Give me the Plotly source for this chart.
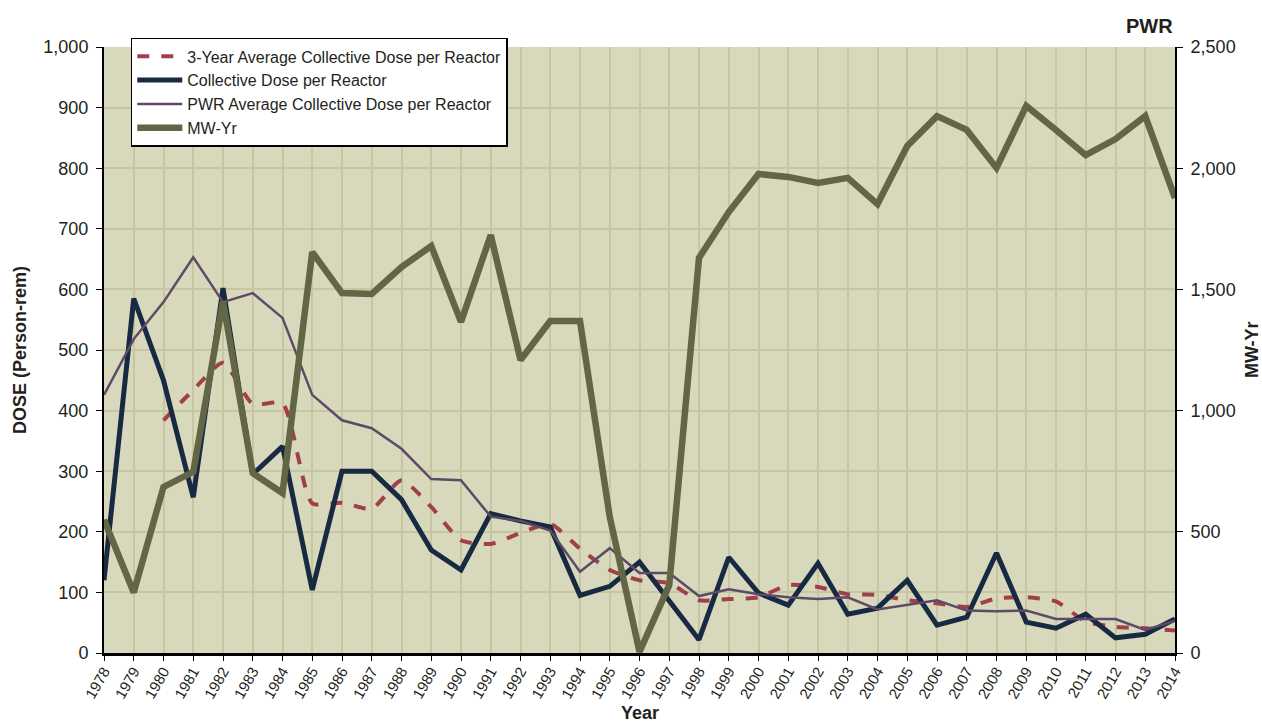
import plotly.graph_objects as go

years = list(range(1978, 2015))

# Collective dose per reactor (person-rem)
collective_dose = [120, 585, 450, 257, 602, 295, 341, 104, 300, 300, 253, 170, 137,
                   230, 218, 208, 95, 110, 150, 86, 22, 158, 99, 79, 148, 64, 74,
                   120, 46, 59, 165, 51, 41, 64, 25, 31, 56]

# PWR average collective dose per reactor (person-rem)
pwr_average = [426, 518, 579, 653, 579, 594, 553, 426, 384, 371, 337, 287, 285,
               225, 218, 202, 134, 173, 132, 132, 94, 105, 97, 92, 89, 92, 72,
               80, 87, 70, 69, 70, 56, 56, 56, 38, 53]

# 3-year rolling average of collective dose (starts in 1980)
three_year_years = list(range(1980, 2015))
three_year_avg = [384, 434, 479, 411, 412, 247, 248, 238, 285, 241, 186, 180, 198,
                  213, 172, 137, 120, 115, 87, 89, 92, 112, 109, 97, 96, 87, 82,
                  76, 90, 92, 85, 52, 43, 41, 37]

# Net electrical output (MW-Yr)
mw_yr = [550, 250, 685, 747, 1450, 742, 660, 1654, 1485, 1481, 1592, 1679, 1366,
         1724, 1209, 1370, 1370, 561, 5, 280, 1630, 1819, 1976, 1964, 1939, 1960,
         1852, 2092, 2215, 2158, 2001, 2257, 2158, 2054, 2120, 2215, 1877]

font_family = "Liberation Sans, Arial, sans-serif"
text_color = "#231f20"
grid_color = "#c6c6a0"

fig = go.Figure()

fig.add_trace(go.Scatter(
    x=three_year_years, y=three_year_avg, mode="lines",
    name="3-Year Average Collective Dose per Reactor",
    line=dict(color="#a13f4a", width=4, dash="dash", shape="spline", smoothing=0.6),
    legendrank=1,
))
fig.add_trace(go.Scatter(
    x=years, y=collective_dose, mode="lines",
    name="Collective Dose per Reactor",
    line=dict(color="#172a42", width=5),
    legendrank=2,
))
fig.add_trace(go.Scatter(
    x=years, y=pwr_average, mode="lines",
    name="PWR Average Collective Dose per Reactor",
    line=dict(color="#5e4a66", width=2.5),
    legendrank=3,
))
fig.add_trace(go.Scatter(
    x=years, y=mw_yr, mode="lines",
    name="MW-Yr", yaxis="y2",
    line=dict(color="#636644", width=6.5),
    legendrank=4,
))

fig.update_layout(
    width=1262, height=723,
    margin=dict(l=104, r=87, t=47, b=70),
    paper_bgcolor="white",
    plot_bgcolor="#d8d8bc",
    font=dict(family=font_family, color=text_color, size=18),
    showlegend=True,
    legend=dict(
        x=0.025, y=1.015, xanchor="left", yanchor="top",
        bgcolor="white", bordercolor="black", borderwidth=1.5,
        font=dict(size=16, color=text_color),
        tracegroupgap=0, itemwidth=45,
    ),
    xaxis=dict(
        range=[1978, 2014], tickmode="array", tickvals=years,
        ticktext=[str(y) for y in years], tickangle=-60,
        tickfont=dict(size=15), showgrid=True, gridcolor=grid_color, gridwidth=1.5,
        showline=True, linecolor="black", linewidth=2.5,
        ticks="outside", ticklen=5, tickcolor="black",
        ticklabelstandoff=-4,
        zeroline=False, automargin=False,
    ),
    yaxis=dict(
        range=[0, 1000], dtick=100, tickformat=",",
        showgrid=True, gridcolor=grid_color, gridwidth=1.5,
        showline=True, linecolor="black", linewidth=2,
        ticks="outside", ticklen=6, tickcolor="black",
        ticklabelstandoff=4,
        zeroline=False, automargin=False,
    ),
    yaxis2=dict(
        range=[0, 2500], dtick=500, tickformat=",",
        overlaying="y", side="right", showgrid=False,
        showline=True, linecolor="black", linewidth=2,
        ticks="outside", ticklen=6, tickcolor="black",
        ticklabelstandoff=4,
        zeroline=False, automargin=False,
    ),
    annotations=[
        dict(text="<b>PWR</b>", xref="paper", yref="paper", x=1.0, y=1.0,
             xanchor="right", yanchor="bottom", yshift=8, showarrow=False,
             font=dict(size=20, color=text_color)),
        dict(text="<b>Year</b>", xref="paper", yref="paper", x=0.5, y=0,
             xanchor="center", yanchor="middle", yshift=-60, showarrow=False,
             font=dict(size=18, color=text_color)),
        dict(text="<b>DOSE (Person-rem)</b>", xref="paper", yref="paper", x=0, y=0.5,
             xanchor="center", yanchor="middle", xshift=-84, textangle=-90,
             showarrow=False, font=dict(size=18, color=text_color)),
        dict(text="<b>MW-Yr</b>", xref="paper", yref="paper", x=1, y=0.5,
             xanchor="center", yanchor="middle", xshift=77, textangle=-90,
             showarrow=False, font=dict(size=18, color=text_color)),
    ],
)

fig.write_html("out.html")
